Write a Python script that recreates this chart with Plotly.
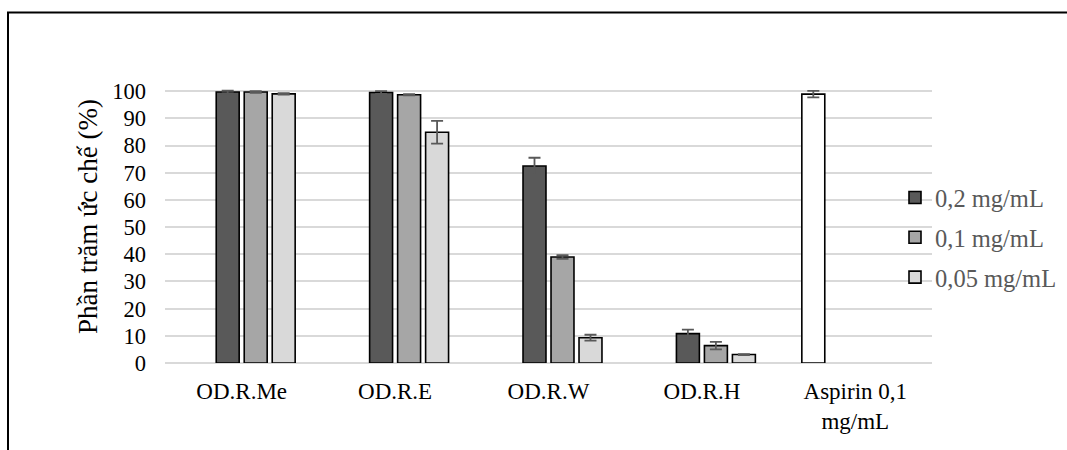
import plotly.graph_objects as go

categories = ["OD.R.Me", "OD.R.E", "OD.R.W", "OD.R.H", "Aspirin 0,1<br>mg/mL"]

series_names = ["0,2 mg/mL", "0,1 mg/mL", "0,05 mg/mL"]
s02 = [99.7, 99.5, 72.5, 10.8, None]
s02_err = [0.5, 0.5, 3.0, 1.5, None]
s01 = [99.7, 98.7, 39.0, 6.4, None]
s01_err = [0.3, 0.2, 0.7, 1.4, None]
s005 = [99.0, 84.9, 9.3, 3.1, None]
s005_err = [0.3, 4.2, 1.1, 0.2, None]
aspirin = [None, None, None, None, 98.9]
aspirin_err = [None, None, None, None, 1.2]

y_ticks = [0, 10, 20, 30, 40, 50, 60, 70, 80, 90, 100]
y_title = "Phần trăm ức chế (%)"

FONT = "Liberation Serif"
W, H = 1067, 450
ML, MR, MT, MB = 165, 135, 89, 87
PW, PH = W - ML - MR, H - MT - MB


def px_to_paper_x(px):
    return (px - ML) / PW


def px_to_paper_y(py):
    return (H - MB - py) / PH


err_style = dict(type="data", visible=True, color="#595959", thickness=1.8, width=6)

fig = go.Figure()
fig.add_trace(go.Bar(
    x=categories, y=aspirin, name="Aspirin",
    marker=dict(color="#ffffff", line=dict(color="#000000", width=1.6)),
    error_y=dict(array=aspirin_err, **err_style),
    showlegend=False,
))
colors = ["#595959", "#a6a6a6", "#d9d9d9"]
vals = [s02, s01, s005]
errs = [s02_err, s01_err, s005_err]
for name, c, v, e in zip(series_names, colors, vals, errs):
    fig.add_trace(go.Bar(
        x=categories, y=v, name=name, legendgroup=name,
        marker=dict(color=c, line=dict(color="#000000", width=1.6)),
        error_y=dict(array=e, **err_style),
    ))

fig.update_layout(
    width=W, height=H,
    margin=dict(l=ML, r=MR, t=MT, b=MB, autoexpand=False),
    paper_bgcolor="#ffffff", plot_bgcolor="#ffffff",
    barmode="group", bargap=0.27, bargroupgap=0.18,
    font=dict(family=FONT, size=22, color="#000000"),
    legend=dict(
        x=px_to_paper_x(895), y=px_to_paper_y(175), xanchor="left", yanchor="top",
        bgcolor="rgba(0,0,0,0)", font=dict(family=FONT, size=24.5, color="#595959"),
        tracegroupgap=5, itemwidth=30,
    ),
    xaxis=dict(
        showgrid=False, showline=False, zeroline=False,
        ticks="", ticklabelstandoff=12,
        tickfont=dict(family=FONT, size=23, color="#000000"),
    ),
    yaxis=dict(
        range=[0, 100.8], tickvals=y_ticks, ticktext=[str(t) for t in y_ticks],
        showgrid=True, gridcolor="#d9d9d9", gridwidth=1.5,
        zeroline=True, zerolinecolor="#d9d9d9", zerolinewidth=1.5,
        showline=False, ticks="", ticklabelstandoff=18,
        tickfont=dict(family=FONT, size=22.5, color="#000000"),
    ),
    annotations=[dict(
        text=y_title, textangle=-90, showarrow=False,
        xref="paper", yref="paper",
        x=px_to_paper_x(88), y=px_to_paper_y(217), xanchor="center", yanchor="middle",
        font=dict(family=FONT, size=27, color="#000000"),
    )],
    shapes=[
        dict(type="line", xref="paper", yref="paper",
             x0=px_to_paper_x(7), x1=px_to_paper_x(1067), y0=px_to_paper_y(12.5), y1=px_to_paper_y(12.5),
             line=dict(color="#000000", width=2)),
        dict(type="line", xref="paper", yref="paper",
             x0=px_to_paper_x(8), x1=px_to_paper_x(8), y0=px_to_paper_y(12), y1=px_to_paper_y(450),
             line=dict(color="#000000", width=2)),
    ],
)

fig.write_html(
    "out.html",
    config={"displayModeBar": False},
    post_script="document.body.style.margin='0';document.body.style.overflow='hidden';",
)
